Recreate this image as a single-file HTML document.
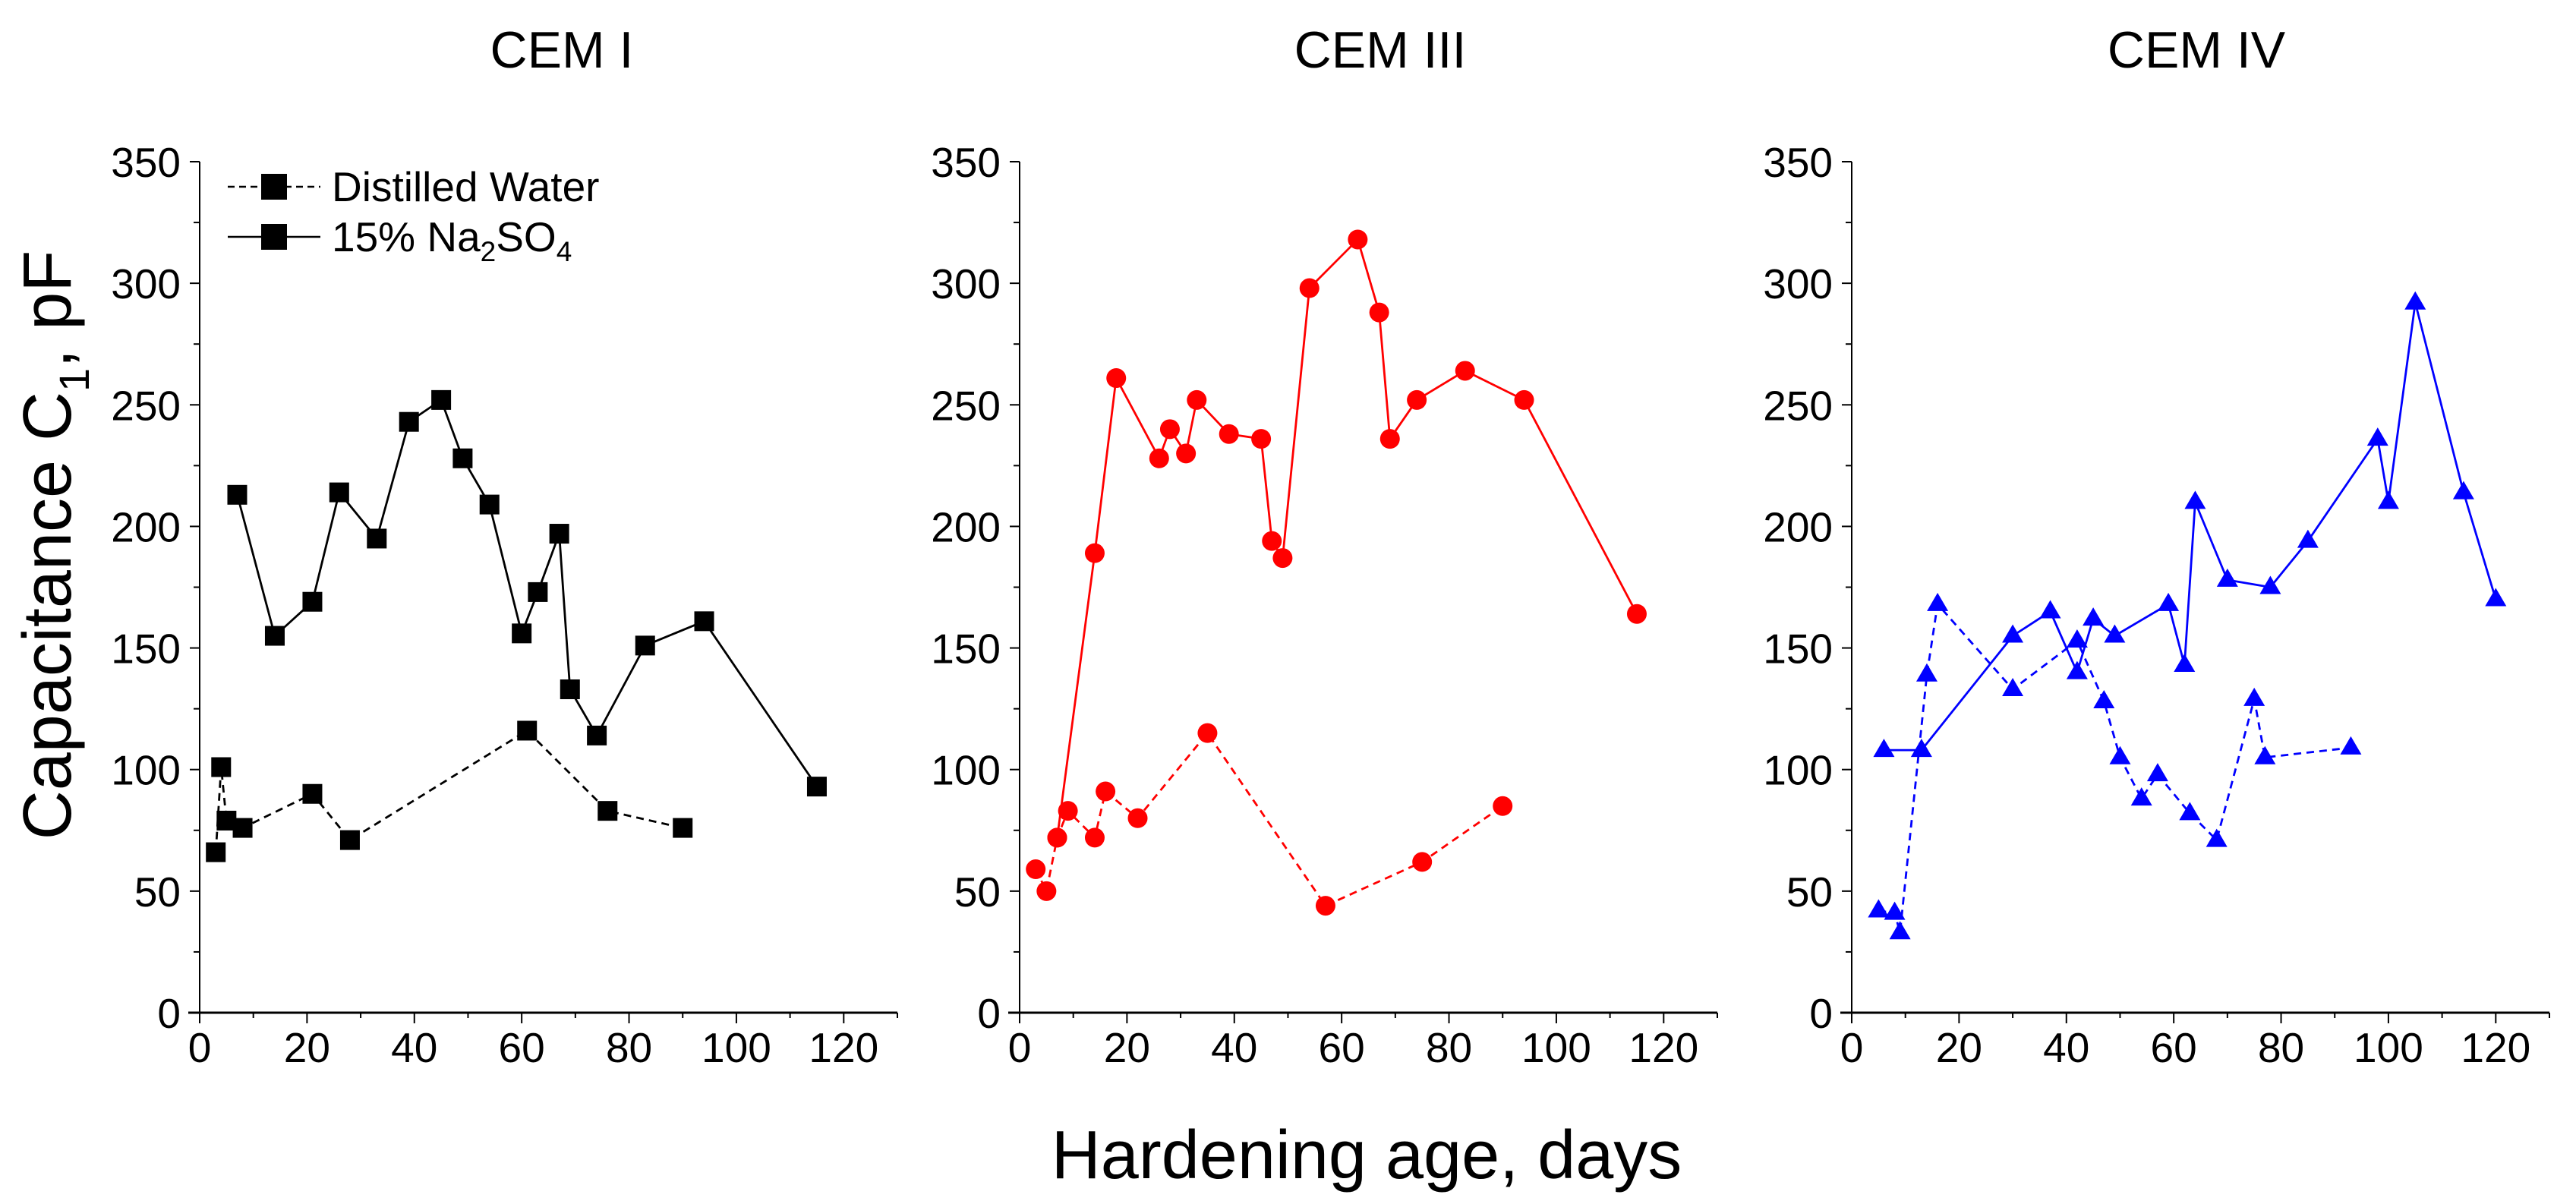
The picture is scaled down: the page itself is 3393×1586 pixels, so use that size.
<!DOCTYPE html>
<html><head><meta charset="utf-8"><style>
html,body{margin:0;padding:0;background:#fff;}
svg{display:block;font-family:"Liberation Sans",Arial,sans-serif;}
</style></head><body>
<svg id="chart" width="3393" height="1586" viewBox="0 0 3393 1586" xmlns="http://www.w3.org/2000/svg">
<rect width="3393" height="1586" fill="#fff"/>
<g id="plots"></g>
<text x="1800" y="1552" font-size="90" text-anchor="middle">Hardening age, days</text>
<text transform="translate(93,718) rotate(-90)" font-size="90" text-anchor="middle">Capacitance C<tspan font-size="56" dy="24">1</tspan><tspan dy="-24">, pF</tspan></text>
<g>
<line x1="300" y1="246" x2="422" y2="246" stroke="#000" stroke-width="2.5" stroke-dasharray="9,6"/>
<rect x="344" y="229" width="34" height="34" fill="#000"/>
<text x="437" y="265" font-size="55">Distilled Water</text>
<line x1="300" y1="312" x2="422" y2="312" stroke="#000" stroke-width="2.5"/>
<rect x="344" y="295" width="34" height="34" fill="#000"/>
<text x="437" y="331" font-size="55">15% Na<tspan font-size="37" dy="13">2</tspan><tspan dy="-13">SO</tspan><tspan font-size="37" dy="13">4</tspan></text>
</g>
</svg>
<script>
// CEM I
const cem1DistX=[3,4,5,8,21,28,61,76,90];
const cem1DistY=[66,101,79,76,90,71,116,83,76];
const cem1SulfX=[7,14,21,26,33,39,45,49,54,60,63,67,69,74,83,94,115];
const cem1SulfY=[213,155,169,214,195,243,252,228,209,156,173,197,133,114,151,161,93];
// CEM III
const cem3DistX=[3,5,7,9,14,16,22,35,57,75,90];
const cem3DistY=[59,50,72,83,72,91,80,115,44,62,85];
const cem3SulfX=[7,14,18,26,28,31,33,39,45,47,49,54,63,67,69,74,83,94,115];
const cem3SulfY=[72,189,261,228,240,230,252,238,236,194,187,298,318,288,236,252,264,252,164];
// CEM IV
const cem4DistX=[5,8,9,14,16,30,42,47,50,54,57,63,68,75,77,93];
const cem4DistY=[42,41,33,139,168,133,153,128,105,88,98,82,71,129,105,109];
const cem4SulfX=[6,13,30,37,42,45,49,59,62,64,70,78,85,98,100,105,114,120];
const cem4SulfY=[108,108,155,165,140,162,155,168,143,210,178,175,194,236,210,292,214,170];
const panelTitles=["CEM I","CEM III","CEM IV"];
const xTicks=[0,20,40,60,80,100,120];
const yTicks=[0,50,100,150,200,250,300,350];

const NS="http://www.w3.org/2000/svg";
const root=document.getElementById('plots');
function mk(tag,attrs,parent){const e=document.createElementNS(NS,tag);for(const k in attrs)e.setAttribute(k,attrs[k]);parent.appendChild(e);return e;}
const Y0=1334,Y1=213,YMAX=350,XMAX=130,PW=919;
function sy(v){return Y0-(v/YMAX)*(Y0-Y1);}
const panels=[
 {ox:263,color:"#000",marker:"square",title:panelTitles[0],tx:740,sets:[[cem1DistX,cem1DistY,true],[cem1SulfX,cem1SulfY,false]]},
 {ox:1343,color:"#ff0000",marker:"circle",title:panelTitles[1],tx:1818,sets:[[cem3DistX,cem3DistY,true],[cem3SulfX,cem3SulfY,false]]},
 {ox:2439,color:"#0000ff",marker:"triangle",title:panelTitles[2],tx:2893,sets:[[cem4DistX,cem4DistY,true],[cem4SulfX,cem4SulfY,false]]}
];
panels.forEach((p,pi)=>{
 const g=mk('g',{},root);
 
 
 const sx=v=>p.ox+(v/XMAX)*PW;
 const t=mk('text',{x:p.tx,y:89,'font-size':68,'text-anchor':'middle'},g);
 t.textContent=p.title;
 
 
 const ya=mk('line',{x1:p.ox,y1:Y1,x2:p.ox,y2:Y0,stroke:'#000','stroke-width':2},g);
 
 
 const xa=mk('line',{x1:p.ox-15,y1:Y0,x2:p.ox+PW,y2:Y0,stroke:'#000','stroke-width':3},g);
 
 
 for(let v=0;v<=XMAX;v+=10){
  const major=v%20===0;
  mk('line',{x1:sx(v),y1:Y0,x2:sx(v),y2:Y0+(major?14:7),stroke:'#000','stroke-width':2},g);
 }
 xTicks.forEach(v=>{const l=mk('text',{x:sx(v),y:1399,'font-size':55,'text-anchor':'middle'},g);l.textContent=v;
  
  });
 for(let v=0;v<=YMAX;v+=25){
  const major=v%50===0;
  mk('line',{x1:p.ox-(major?13:8),y1:sy(v),x2:p.ox,y2:sy(v),stroke:'#000','stroke-width':2},g);
 }
 yTicks.forEach(v=>{const l=mk('text',{x:p.ox-25,y:sy(v)+20,'font-size':55,'text-anchor':'end'},g);l.textContent=v;
  
  });
 p.sets.forEach(([xs,ys,dashed])=>{
  const pts=xs.map((x,i)=>sx(x).toFixed(1)+','+sy(ys[i]).toFixed(1)).join(' ');
  const pl=mk('polyline',{points:pts,fill:'none',stroke:p.color,'stroke-width':2.8},g);
  if(dashed)pl.setAttribute('stroke-dasharray','10,7');
  
  
  xs.forEach((x,i)=>{
   const cx=sx(x),cy=sy(ys[i]);let m;
   if(p.marker==='square')m=mk('rect',{x:cx-13,y:cy-13,width:26,height:26,fill:p.color},g);
   else if(p.marker==='circle')m=mk('circle',{cx:cx,cy:cy,r:13,fill:p.color},g);
   else m=mk('polygon',{points:`${cx},${cy-15} ${cx-14},${cy+9} ${cx+14},${cy+9}`,fill:p.color},g);
   
   
  });
 });
});
</script>
</body></html>
